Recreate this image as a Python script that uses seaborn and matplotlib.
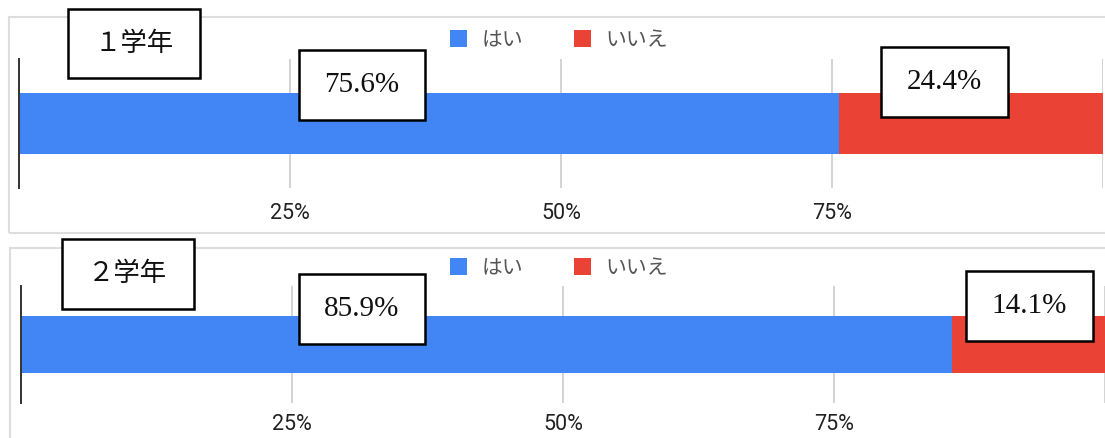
import matplotlib
matplotlib.use("Agg")
import matplotlib.pyplot as plt
from matplotlib.patches import Rectangle
import seaborn as sns

# survey answers per grade (percent)
grades = ["１学年", "２学年"]
yes_pct = [75.6, 85.9]
no_pct = [24.4, 14.1]
series = ["はい", "いいえ"]
tick_vals = [0, 25, 50, 75, 100]
tick_labels = ["", "25%", "50%", "75%", ""]

BLUE = "#4285f4"
RED = "#ea4335"
W, H = 1105, 438

sns.set_theme(style="white")
plt.rcParams["font.family"] = ["Roboto", "Noto Sans CJK JP", "DejaVu Sans"]

fig = plt.figure(figsize=(W / 100, H / 100), dpi=100)


def fig_rect(x0, y0, x1, y1):
    # pixel box (top-left origin) -> figure fraction [left, bottom, w, h]
    return [x0 / W, 1 - y1 / H, (x1 - x0) / W, (y1 - y0) / H]


# layout in pixels for each panel
panels = [
    dict(frame=(9, 17, 1112, 233), ax=(19, 59, 1103, 188), legend_y=40, pad=11,
         title_box=(68, 9, 200, 78), yes_box=(299, 50, 425, 120), no_box=(881, 47, 1008, 117)),
    dict(frame=(10, 248, 1112, 450), ax=(21, 286, 1105, 403), legend_y=268, pad=8,
         title_box=(62, 239, 194, 309), yes_box=(299, 274, 425, 344), no_box=(966, 271, 1093, 341)),
]


def boxed_text(box, text, size):
    x0, y0, x1, y1 = box
    l, b, w, h = fig_rect(x0, y0, x1, y1)
    fig.add_artist(Rectangle((l, b), w, h, transform=fig.transFigure,
                             facecolor="white", edgecolor="black", lw=1.8, zorder=10))
    fig.text(l + w / 2, b + h / 2, text, ha="center", va="center", fontsize=size,
             family=["Liberation Serif", "Noto Sans CJK JP"], color="#111", zorder=11)


for i, p in enumerate(panels):
    l, b, w, h = fig_rect(*p["frame"])
    fig.add_artist(Rectangle((l, b), w, h, transform=fig.transFigure,
                             fill=False, edgecolor="#dddddd", lw=1.5, zorder=0))

    ax = fig.add_axes(fig_rect(*p["ax"]))
    total = yes_pct[i] + no_pct[i]
    sns.barplot(x=[total], y=[grades[i]], orient="h", color=RED, width=0.48,
                saturation=1, linewidth=0, label=series[1], ax=ax, zorder=3)
    sns.barplot(x=[yes_pct[i]], y=[grades[i]], orient="h", color=BLUE, width=0.48,
                saturation=1, linewidth=0, label=series[0], ax=ax, zorder=3)
    handles, labels = ax.get_legend_handles_labels()
    if ax.get_legend() is not None:
        ax.get_legend().remove()

    ax.set_xlim(0, 100)
    ax.set_ylim(0.5, -0.5)
    ax.set_xticks(tick_vals)
    ax.set_xticklabels(tick_labels)
    ax.set_yticks([])
    ax.set_xlabel("")
    ax.set_ylabel("")
    ax.grid(axis="x", color="#cccccc", lw=1.2, zorder=0)
    ax.set_axisbelow(True)
    ax.tick_params(axis="x", length=0, pad=p["pad"], labelsize=15.5, labelcolor="#222")
    for s in ["top", "right", "bottom"]:
        ax.spines[s].set_visible(False)
    ax.spines["left"].set_color("#333333")
    ax.spines["left"].set_linewidth(1.4)
    ax.spines["left"].set_zorder(5)

    fig.legend(handles[::-1], labels[::-1], ncol=2, frameon=False,
               loc="center", bbox_to_anchor=(559 / W, 1 - p["legend_y"] / H),
               handlelength=0.85, handleheight=0.85,
               handletextpad=0.7, columnspacing=2.4, labelcolor="#555555",
               prop={"family": ["Noto Sans CJK JP"], "size": 15})

    boxed_text(p["title_box"], grades[i], 19)
    boxed_text(p["yes_box"], f"{yes_pct[i]:.1f}%", 21)
    boxed_text(p["no_box"], f"{no_pct[i]:.1f}%", 21)

fig.savefig("out.png", dpi=100, facecolor="white")
